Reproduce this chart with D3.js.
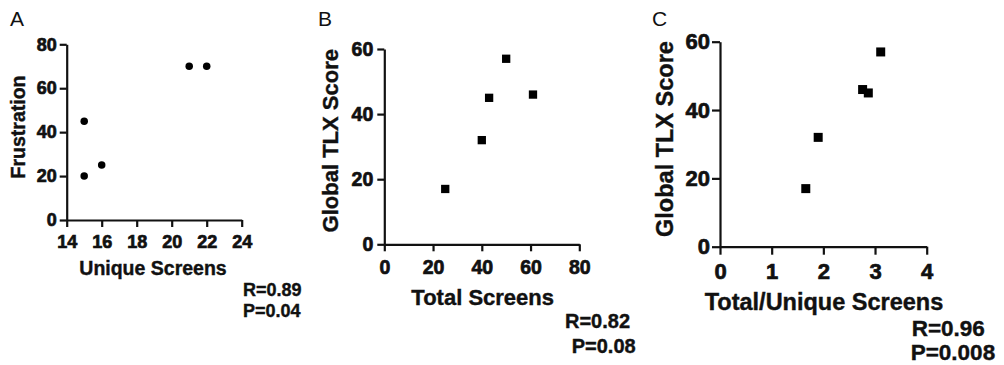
<!DOCTYPE html>
<html>
<head>
<meta charset="utf-8">
<script src="https://cdn.jsdelivr.net/npm/d3@7"></script>
<style>
  body { margin: 0; background: #fff; }
  svg { display: block; }
  text { font-family: "Liberation Sans", Arial, sans-serif; fill: #111; }
  text.bold { font-weight: 700; stroke: #111; stroke-width: 0.4px; }
  .tick text.bold { stroke-width: 0.7px; }
</style>
</head>
<body>
<div id="chart"></div>
<script>
// Panel A: Unique Screens vs Frustration
const uniqueScreens = [15, 15, 16, 21, 22];
const frustration = [20, 45, 25, 70, 70];
const xTicksA = [14, 16, 18, 20, 22, 24];
const yTicksA = [0, 20, 40, 60, 80];

// Panel B: Total Screens vs Global TLX
const totalScreens = [25, 40, 43, 50, 61];
const tlxB = [17, 32, 45, 57, 46];
const xTicksB = [0, 20, 40, 60, 80];
const yTicksB = [0, 20, 40, 60];

// Panel C: Total/Unique Screens vs Global TLX
const ratioScreens = [1.66, 1.9, 2.76, 2.87, 3.11];
const tlxC = [17, 32, 46, 45, 57];
const xTicksC = [0, 1, 2, 3, 4];
const yTicksC = [0, 20, 40, 60];

const svg = d3.select('#chart')
  .append('svg')
  .attr('width', 1004)
  .attr('height', 365);

function panel(opts) {
  const g = svg.append('g');
  const x = d3.scaleLinear().domain(opts.xDomain).range(opts.xRange);
  const y = d3.scaleLinear().domain(opts.yDomain).range(opts.yRange);

  const xAxis = d3.axisBottom(x).tickValues(opts.xTicks).tickFormat(d3.format('d'))
    .tickSize(opts.tick).tickPadding(opts.xPad).tickSizeOuter(0);
  const yAxis = d3.axisLeft(y).tickValues(opts.yTicks).tickFormat(d3.format('d'))
    .tickSize(opts.tick).tickPadding(opts.yPad).tickSizeOuter(0);

  const xg = g.append('g')
    .attr('transform', 'translate(0,' + opts.yRange[0] + ')')
    .call(xAxis);
  const yg = g.append('g')
    .attr('transform', 'translate(' + opts.xRange[0] + ',0)')
    .call(yAxis);

  [xg, yg].forEach((a) => {
    a.attr('font-family', null).attr('font-size', null);
    a.select('.domain').attr('stroke', '#111').attr('stroke-width', 2.2);
    a.selectAll('.tick line').attr('stroke', '#111').attr('stroke-width', 2.2);
    a.selectAll('.tick text')
      .attr('class', 'bold')
      .style('font-size', opts.tickFont + 'px')
      .attr('fill', '#111');
  });

  // markers
  const pts = opts.xs.map((v, i) => [v, opts.ys[i]]);
  if (opts.shape === 'circle') {
    g.selectAll('circle.pt').data(pts).enter().append('circle')
      .attr('class', 'pt')
      .attr('cx', (d) => x(d[0]))
      .attr('cy', (d) => y(d[1]))
      .attr('r', opts.size / 2)
      .attr('fill', '#000');
  } else {
    g.selectAll('rect.pt').data(pts).enter().append('rect')
      .attr('class', 'pt')
      .attr('x', (d) => x(d[0]) - opts.size / 2)
      .attr('y', (d) => y(d[1]) - opts.size / 2)
      .attr('width', opts.size)
      .attr('height', opts.size)
      .attr('fill', '#000');
  }

  // axis titles
  g.append('text')
    .attr('class', 'bold')
    .attr('x', opts.xTitlePos[0])
    .attr('y', opts.xTitlePos[1])
    .attr('text-anchor', 'middle')
    .style('font-size', opts.titleFont + 'px')
    .text(opts.xTitle);

  g.append('text')
    .attr('class', 'bold')
    .attr('transform', 'translate(' + opts.yTitlePos[0] + ',' + opts.yTitlePos[1] + ') rotate(-90)')
    .attr('text-anchor', 'middle')
    .style('font-size', opts.titleFont + 'px')
    .text(opts.yTitle);

  // panel letter
  g.append('text')
    .attr('x', opts.letterPos[0])
    .attr('y', opts.letterPos[1])
    .style('font-size', opts.letterFont + 'px')
    .text(opts.letter);

  // statistics
  opts.stats.forEach((s) => {
    g.append('text')
      .attr('class', 'bold')
      .attr('x', s.x)
      .attr('y', s.y)
      .style('font-size', opts.statFont + 'px')
      .text(s.text);
  });
}

panel({
  xs: uniqueScreens, ys: frustration, shape: 'circle', size: 7.5,
  xDomain: [14, 24], xRange: [66.7, 241.7],
  yDomain: [0, 80], yRange: [220, 44.3],
  xTicks: xTicksA, yTicks: yTicksA,
  tick: 7, xPad: 8, yPad: 3, tickFont: 18, titleFont: 19.5,
  xTitle: 'Unique Screens', xTitlePos: [153, 275],
  yTitle: 'Frustration', yTitlePos: [25, 127],
  letter: 'A', letterPos: [10, 26], letterFont: 21,
  statFont: 18,
  stats: [{ text: 'R=0.89', x: 243, y: 296 }, { text: 'P=0.04', x: 243, y: 316.7 }],
});

panel({
  xs: totalScreens, ys: tlxB, shape: 'square', size: 8.3,
  xDomain: [0, 80], xRange: [384.3, 579.3],
  yDomain: [0, 60], yRange: [244.3, 49],
  xTicks: xTicksB, yTicks: yTicksB,
  tick: 7, xPad: 9, yPad: 4, tickFont: 19.5, titleFont: 22,
  xTitle: 'Total Screens', xTitlePos: [482.7, 305],
  yTitle: 'Global TLX Score', yTitlePos: [338, 140.7],
  letter: 'B', letterPos: [318, 26], letterFont: 21,
  statFont: 20,
  stats: [{ text: 'R=0.82', x: 565, y: 327.7 }, { text: 'P=0.08', x: 571.7, y: 353.3 }],
});

panel({
  xs: ratioScreens, ys: tlxC, shape: 'square', size: 9,
  xDomain: [0, 4], xRange: [720, 926.7],
  yDomain: [0, 60], yRange: [246.7, 41.7],
  xTicks: xTicksC, yTicks: yTicksC,
  tick: 8, xPad: 9, yPad: 2, tickFont: 22, titleFont: 23.5,
  xTitle: 'Total/Unique Screens', xTitlePos: [824, 310],
  yTitle: 'Global TLX Score', yTitlePos: [673, 139],
  letter: 'C', letterPos: [652, 26], letterFont: 21,
  statFont: 22.5,
  stats: [{ text: 'R=0.96', x: 911.7, y: 336 }, { text: 'P=0.008', x: 910.7, y: 359.5 }],
});
</script>
</body>
</html>
